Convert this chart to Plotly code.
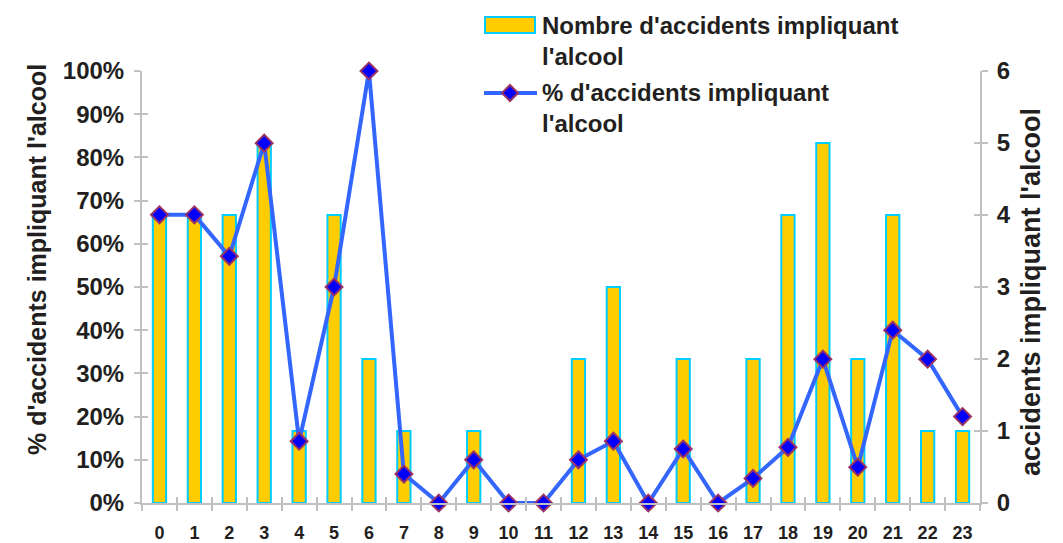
import plotly.graph_objects as go

# Hourly breakdown of accidents involving alcohol
heures = [str(h) for h in range(24)]
nombre_accidents = [4, 4, 4, 5, 1, 4, 2, 1, 0, 1, 0, 0, 2, 3, 0, 2, 0, 2, 4, 5, 2, 4, 1, 1]
pourcentage = [66.7, 66.7, 57.1, 83.3, 14.3, 50.0, 100.0, 6.7, 0.0, 10.0, 0.0, 0.0,
               10.0, 14.3, 0.0, 12.5, 0.0, 5.7, 12.9, 33.3, 8.3, 40.0, 33.3, 20.0]
ticks_pct = [0, 10, 20, 30, 40, 50, 60, 70, 80, 90, 100]
ticks_nb = [0, 1, 2, 3, 4, 5, 6]

W, H = 1063, 543
ML, MR, MT, MB = 142, 83, 71, 40
PW, PH = W - ML - MR, H - MT - MB

FONT = "Liberation Sans, Arial, sans-serif"
TXT = "#231f20"
AXIS = "#c0c0c0"


def px(x):
    return (x - ML) / PW


def py(y):
    return (H - MB - y) / PH


fig = go.Figure()

# counts: primary axis (drawn on the right), bars underneath
fig.add_trace(go.Bar(
    x=heures, y=nombre_accidents, yaxis="y", width=0.38,
    marker=dict(color="#ffcc00", line=dict(color="#00ccff", width=2)),
    name="Nombre d'accidents impliquant l'alcool",
))

# percentages: overlay axis (drawn on the left), line on top
fig.add_trace(go.Scatter(
    x=heures, y=[p / 100 for p in pourcentage], yaxis="y2", mode="lines+markers",
    line=dict(color="#3366ff", width=4), cliponaxis=False,
    marker=dict(symbol="diamond", size=13, color="#0000ff",
                line=dict(color="#993366", width=2)),
    name="% d'accidents impliquant l'alcool",
))

tickfont = dict(family=FONT, size=24, color=TXT, weight="bold")

fig.update_layout(
    width=W, height=H,
    margin=dict(l=ML, r=MR, t=MT, b=MB),
    paper_bgcolor="white", plot_bgcolor="white",
    showlegend=False,
    xaxis=dict(
        type="category", tickson="boundaries", ticks="outside", ticklen=6,
        tickcolor=AXIS, tickwidth=2, showline=True, linecolor=AXIS, linewidth=2,
        showgrid=False, tickfont=dict(family=FONT, size=18, color=TXT, weight="bold"),
        range=[-0.5, 23.5], zeroline=False, ticklabelstandoff=12, automargin=False,
    ),
    xaxis3=dict(
        overlaying="x", anchor="y", range=[-0.5, 23.5], tick0=0.5, dtick=1,
        ticks="inside", ticklen=6, tickcolor=AXIS, tickwidth=2, automargin=False,
        showticklabels=False, showline=False, showgrid=False, zeroline=False,
    ),
    yaxis=dict(
        side="right", range=[0, 6], tickvals=ticks_nb,
        ticks="outside", ticklen=6, tickcolor=AXIS, tickwidth=2,
        showline=True, linecolor=AXIS, linewidth=2, showgrid=False, zeroline=False,
        tickfont=tickfont, ticklabelstandoff=4, automargin=False,
    ),
    yaxis2=dict(
        overlaying="y", side="left", anchor="x", range=[0, 1],
        tickvals=[t / 100 for t in ticks_pct],
        ticktext=[f"{t}%" for t in ticks_pct],
        ticks="outside", ticklen=6, tickcolor=AXIS, tickwidth=2,
        showline=True, linecolor=AXIS, linewidth=2, showgrid=False, zeroline=False,
        tickfont=tickfont, ticklabelstandoff=5, automargin=False,
    ),
    yaxis3=dict(
        overlaying="y", side="left", anchor="x", range=[0, 1],
        tickvals=[t / 100 for t in ticks_pct], ticks="inside", ticklen=6,
        tickcolor=AXIS, tickwidth=2, showticklabels=False, showline=False,
        showgrid=False, zeroline=False, automargin=False,
    ),
    yaxis4=dict(
        overlaying="y", side="right", anchor="x", range=[0, 6], tickvals=ticks_nb,
        ticks="inside", ticklen=6, tickcolor=AXIS, tickwidth=2, automargin=False,
        showticklabels=False, showline=False, showgrid=False, zeroline=False,
    ),
)

# empty traces so the inner-tick axes are laid out
fig.add_trace(go.Scatter(x=[], y=[], xaxis="x3", yaxis="y", showlegend=False))
fig.add_trace(go.Scatter(x=[], y=[], xaxis="x", yaxis="y3", showlegend=False))
fig.add_trace(go.Scatter(x=[], y=[], xaxis="x", yaxis="y4", showlegend=False))

title_font = dict(family=FONT, size=24, color=TXT, weight="bold")

# axis titles
fig.add_annotation(text="% d'accidents impliquant l'alcool", textangle=-90,
                   xref="paper", yref="paper", x=px(21), y=py(260),
                   showarrow=False, font=dict(family=FONT, size=25, color=TXT, weight="bold"))
fig.add_annotation(text="accidents impliquant l'alcool", textangle=-90,
                   xref="paper", yref="paper", x=px(1048), y=py(292),
                   showarrow=False, font=dict(family=FONT, size=27, color=TXT, weight="bold"))

# legend
fig.add_shape(type="rect", xref="paper", yref="paper",
              x0=px(485), x1=px(535), y0=py(33), y1=py(17),
              fillcolor="#ffcc00", line=dict(color="#00ccff", width=2))
fig.add_annotation(text="Nombre d'accidents impliquant<br>l'alcool", align="left",
                   xref="paper", yref="paper", x=px(540), y=py(10),
                   xanchor="left", yanchor="top", showarrow=False, font=title_font)
fig.add_shape(type="line", xref="paper", yref="paper",
              x0=px(484), x1=px(537), y0=py(93), y1=py(93),
              line=dict(color="#3366ff", width=4))
d = 8
fig.add_shape(type="path", xref="paper", yref="paper",
              path=(f"M {px(510 - d)},{py(93)} L {px(510)},{py(93 - d)} "
                    f"L {px(510 + d)},{py(93)} L {px(510)},{py(93 + d)} Z"),
              fillcolor="#0000ff", line=dict(color="#993366", width=2))
fig.add_annotation(text="% d'accidents impliquant<br>l'alcool", align="left",
                   xref="paper", yref="paper", x=px(540), y=py(77),
                   xanchor="left", yanchor="top", showarrow=False, font=title_font)

fig.write_html("out.html")
